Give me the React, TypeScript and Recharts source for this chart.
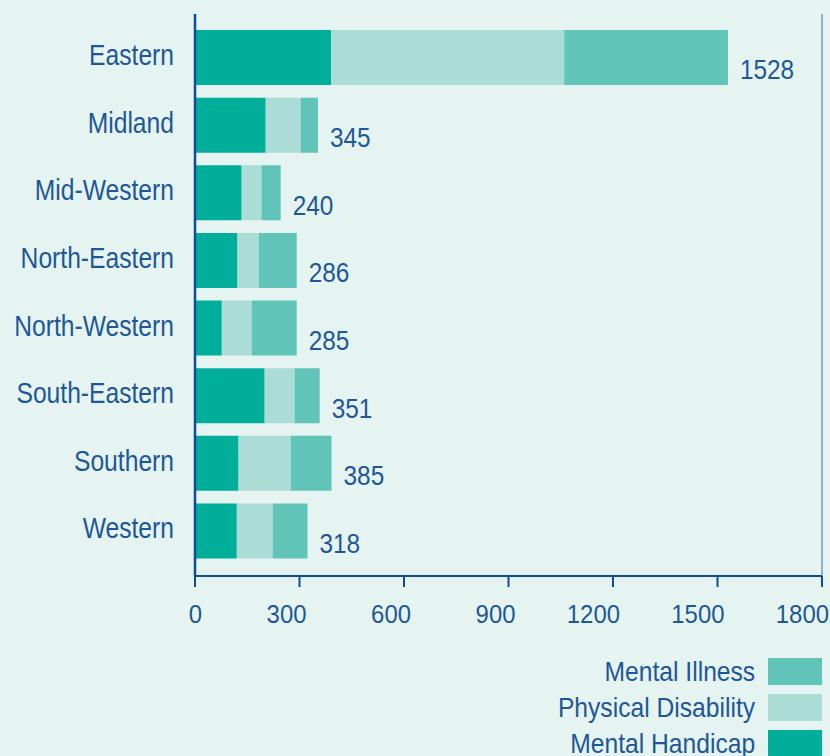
import { BarChart, Bar, XAxis, YAxis, ReferenceLine, LabelList } from "recharts";

const regions = ["Eastern", "Midland", "Mid-Western", "North-Eastern", "North-Western", "South-Eastern", "Southern", "Western"];
const mentalHandicap = [391, 203, 134, 122, 77, 200, 125, 120];
const physicalDisability = [669, 100, 57, 61, 86, 86, 150, 103];
const mentalIllness = [470, 50, 55, 109, 129, 72, 117, 100];
const totals = [1528, 345, 240, 286, 285, 351, 385, 318];
const xTicks = [0, 300, 600, 900, 1200, 1500, 1800];

const FONT = "'Liberation Sans', Arial, sans-serif";
const TEXT = "#1d5799";
const AXIS = "#0f4c97";
const BORDER = "#6d9dcb";
const BG = "#e5f4f1";
const C_MH = "#00ae9a";
const C_PD = "#abdcd6";
const C_MI = "#60c4b9";

const data = regions.map((region, i) => ({
    region,
    mh: mentalHandicap[i],
    pd: physicalDisability[i],
    mi: mentalIllness[i],
    total: totals[i],
}));

// legend goes top-down in reverse stack order
const legendItems = [
    { name: "Mental Illness", color: C_MI },
    { name: "Physical Disability", color: C_PD },
    { name: "Mental Handicap", color: C_MH },
];

// no condensed font installed, so squeeze Liberation Sans horizontally
function RegionTick(props: any) {
    const { x, y, payload } = props;
    return (
        <g transform={`translate(${x},${y - 3})`}>
            <text transform="scale(0.85,1)" textAnchor="end" dy="0.355em" fill={TEXT} fontSize={29} fontFamily={FONT}>
                {payload.value}
            </text>
        </g>
    );
}

function ValueTick(props: any) {
    const { x, y, payload } = props;
    return (
        <g transform={`translate(${x + 7},${y})`}>
            <text transform="scale(0.92,1)" textAnchor="end" dy="0.71em" fill={TEXT} fontSize={26} fontFamily={FONT}>
                {payload.value}
            </text>
        </g>
    );
}

function TotalLabel(props: any) {
    const vb = props.viewBox ?? props;
    const x = Number(vb.x) + Number(vb.width);
    const y = Number(vb.y) + Number(vb.height) / 2;
    return (
        <g transform={`translate(${x + 12},${y + 12})`}>
            <text transform="scale(0.87,1)" dy="0.355em" fill={TEXT} fontSize={28} fontFamily={FONT}>
                {props.value}
            </text>
        </g>
    );
}

export default function App() {
    return (
        <div style={{ position: "absolute", left: 0, top: 0, width: 830, height: 756, background: BG, overflow: "hidden", fontFamily: FONT }}>
            <BarChart
                width={830}
                height={640}
                data={data}
                layout="vertical"
                margin={{ top: 14, right: 8, left: 0, bottom: 14 }}
            >
                <XAxis
                    type="number"
                    domain={[0, 1800]}
                    ticks={xTicks}
                    interval={0}
                    height={50}
                    axisLine={{ stroke: AXIS, strokeWidth: 2 }}
                    tickLine={{ stroke: AXIS, strokeWidth: 2 }}
                    tickSize={11}
                    tickMargin={18}
                    tick={<ValueTick />}
                />
                <XAxis
                    xAxisId="top"
                    orientation="top"
                    type="number"
                    domain={[0, 1800]}
                    height={0}
                    tick={false}
                    tickLine={false}
                    axisLine={{ stroke: BORDER, strokeWidth: 1.5 }}
                />
                <YAxis
                    type="category"
                    dataKey="region"
                    width={195}
                    padding={{ top: 10, bottom: 11 }}
                    axisLine={{ stroke: AXIS, strokeWidth: 2.5 }}
                    tickLine={false}
                    tickSize={0}
                    tickMargin={21}
                    interval={0}
                    tick={<RegionTick />}
                />
                <ReferenceLine x={1800} stroke={BORDER} strokeWidth={1.5} ifOverflow="extendDomain" />
                <Bar dataKey="mh" name="Mental Handicap" stackId="a" fill={C_MH} barSize={55} isAnimationActive={false} />
                <Bar dataKey="pd" name="Physical Disability" stackId="a" fill={C_PD} barSize={55} isAnimationActive={false} />
                <Bar dataKey="mi" name="Mental Illness" stackId="a" fill={C_MI} barSize={55} isAnimationActive={false}>
                    <LabelList dataKey="total" content={<TotalLabel />} />
                </Bar>
            </BarChart>
            <div style={{ position: "absolute", right: 8, top: 658 }}>
                {legendItems.map((it) => (
                    <div key={it.name} style={{ display: "flex", alignItems: "center", justifyContent: "flex-end", height: 27, marginBottom: 9 }}>
                        <span style={{ color: TEXT, fontSize: 28, lineHeight: "27px", marginRight: 13, whiteSpace: "nowrap", display: "inline-block", transform: "scaleX(0.88)", transformOrigin: "right center" }}>{it.name}</span>
                        <span style={{ display: "inline-block", width: 54, height: 27, background: it.color }} />
                    </div>
                ))}
            </div>
        </div>
    );
}
